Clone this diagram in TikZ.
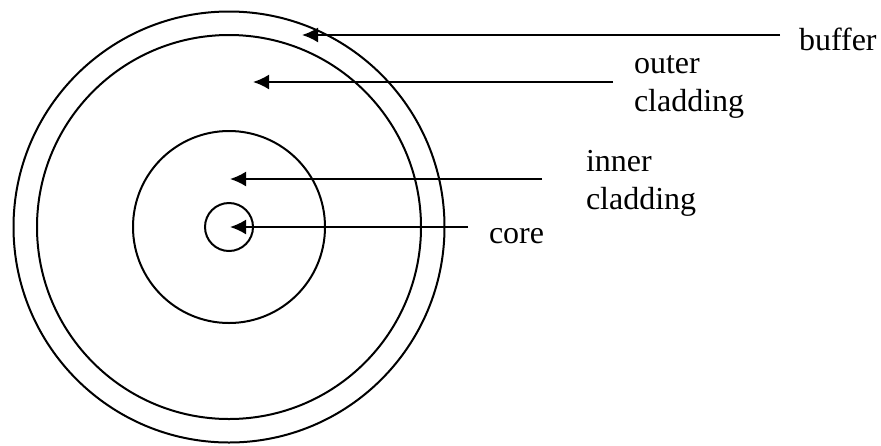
\documentclass[tikz,border=0pt]{standalone}
\usepackage{fontspec}
\setmainfont{Liberation Serif}
\usetikzlibrary{arrows.meta}

\begin{document}
\begin{tikzpicture}[x=0.5pt, y=-0.5pt, line width=1pt,
    lbl/.style={inner sep=0pt, anchor=base west, align=left,
        font=\fontsize{16pt}{19pt}\selectfont},
    arr/.style={-{Latex[length=8pt, width=7.5pt]}, shorten <=10pt}]
    \useasboundingbox (0,0) rectangle (881,445);

    % Rings
    \coordinate (ctr) at (229,227);
    \draw (ctr) circle [radius=107.75pt];
    \draw (ctr) circle [radius=96pt];
    \draw (ctr) circle [radius=48pt];
    \draw (ctr) circle [radius=12pt];

    % Labels (base is the last line)
    \node[lbl] (buffer) at (798,50) {buffer};
    \node[lbl] (outer) at (633,111) {outer\\cladding};
    \node[lbl] (inner) at (585,209) {inner\\cladding};
    \node[lbl] (core) at (488,243) {core};

    % Arrows
    \coordinate (tipBuffer) at (302,35);
    \coordinate (tipOuter) at (253,82);
    \coordinate (tipInner) at (230,179);
    \coordinate (tipCore) at (230,227);
    \draw[arr, shorten <=9pt] (buffer.west |- tipBuffer) -- (tipBuffer);
    \draw[arr] (outer.west |- tipOuter) -- (tipOuter);
    \draw[arr, shorten <=21.5pt] (inner.west |- tipInner) -- (tipInner);
    \draw[arr] (core.west |- tipCore) -- (tipCore);
\end{tikzpicture}
\end{document}
